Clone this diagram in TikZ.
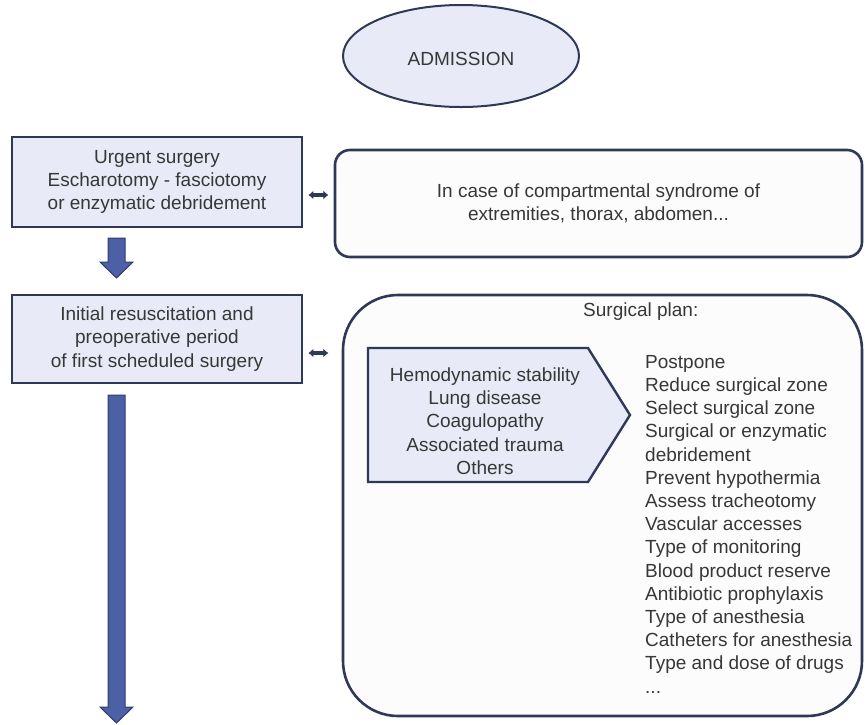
\documentclass[tikz,border=0pt]{standalone}
\usepackage{fontspec}
\setmainfont{Liberation Sans}
\usetikzlibrary{shapes.geometric,calc,arrows.meta}
\definecolor{navy}{RGB}{48,56,88}
\definecolor{boxfill}{RGB}{232,235,247}
\definecolor{palefill}{RGB}{253,252,252}
\definecolor{arrowfill}{RGB}{76,96,166}
\definecolor{arrowline}{RGB}{44,60,112}
\definecolor{txt}{RGB}{55,55,55}
\newcommand\blockarr[2]{%
  \draw[blockarrow] let \p1=(#1), \p2=(#2) in
    (\x1-8.5pt,\y1) -- (\x1+8.5pt,\y1) -- (\x1+8.5pt,\y2+16pt) -- (\x1+16.5pt,\y2+16pt)
    -- (\x2,\y2) -- (\x1-16.5pt,\y2+16pt) -- (\x1-8.5pt,\y2+16pt) -- cycle;}
\begin{document}
\begin{tikzpicture}[x=1pt,y=-1pt,
  txtstyle/.style={text=txt,font=\fontsize{19}{23.2}\selectfont},
  bluebox/.style={draw=navy,line width=2.8pt,fill=boxfill,align=center,txtstyle},
  palebox/.style={draw=navy,line width=2.6pt,fill=palefill},
  blockarrow/.style={fill=arrowfill,draw=arrowline,line width=1pt,line join=miter},
  dblarr/.style={draw=navy,line width=4pt,{Latex[length=5pt,width=9pt]}-{Latex[length=5pt,width=9pt]}},
  pentagonstyle/.style={draw=navy,line width=2.4pt,fill=boxfill,line join=miter}]
\useasboundingbox (0,0) rectangle (865,724);

% admission ellipse
\node[ellipse,draw=navy,line width=2pt,fill=boxfill,minimum width=236pt,minimum height=102pt] (adm) at (461,56) {};
\node[txtstyle] (admtxt) at ($(adm.center)+(0,3)$) {ADMISSION};

% left boxes
\node[bluebox,minimum width=290pt,minimum height=90pt] (b1) at (157,182)
  {Urgent surgery\\Escharotomy - fasciotomy\\or enzymatic debridement};
\node[bluebox,minimum width=290pt,minimum height=88pt] (b2) at (157,339)
  {Initial resuscitation and\\preoperative period\\of first scheduled surgery};

% right boxes
\node[palebox,rounded corners=15pt,minimum width=527pt,minimum height=107pt,align=center,txtstyle] (b3) at (598.5,203.5)
  {In case of compartmental syndrome of\\extremities, thorax, abdomen...};
\node[palebox,rounded corners=55pt,minimum width=519pt,minimum height=421pt] (b4) at (602.5,505.5) {};
\node[txtstyle,anchor=west,inner sep=0pt] (plan) at (583,312) {Surgical plan:};

% pentagon
\draw[pentagonstyle] (368,348) coordinate (p1) -- (588,348) -- (630,415) coordinate (ptip) -- (588,482) -- (368,482) -- cycle;
\node[txtstyle,align=center] (factors) at (485,421)
  {Hemodynamic stability\\Lung disease\\Coagulopathy\\Associated trauma\\Others};

% list
\node[txtstyle,align=left,anchor=north west,inner sep=0pt] (list) at (645,355)
  {Postpone\\Reduce surgical zone\\Select surgical zone\\Surgical or enzymatic\\debridement\\Prevent hypothermia\\Assess tracheotomy\\Vascular accesses\\Type of monitoring\\Blood product reserve\\Antibiotic prophylaxis\\Type of anesthesia\\Catheters for anesthesia\\Type and dose of drugs\\...};

% small double arrows
\draw[dblarr] ($(b1.east)+(5,13)$) -- ($(b1.east)+(25,13)$);
\draw[dblarr] ($(b2.east)+(5,14)$) -- ($(b2.east)+(25,14)$);

% block arrows
\coordinate (a1s) at (116.5,238);
\coordinate (a1e) at (116.5,278);
\coordinate (a2s) at (116.5,395);
\coordinate (a2e) at (116.5,723);
\blockarr{a1s}{a1e}
\blockarr{a2s}{a2e}
\end{tikzpicture}
\end{document}
